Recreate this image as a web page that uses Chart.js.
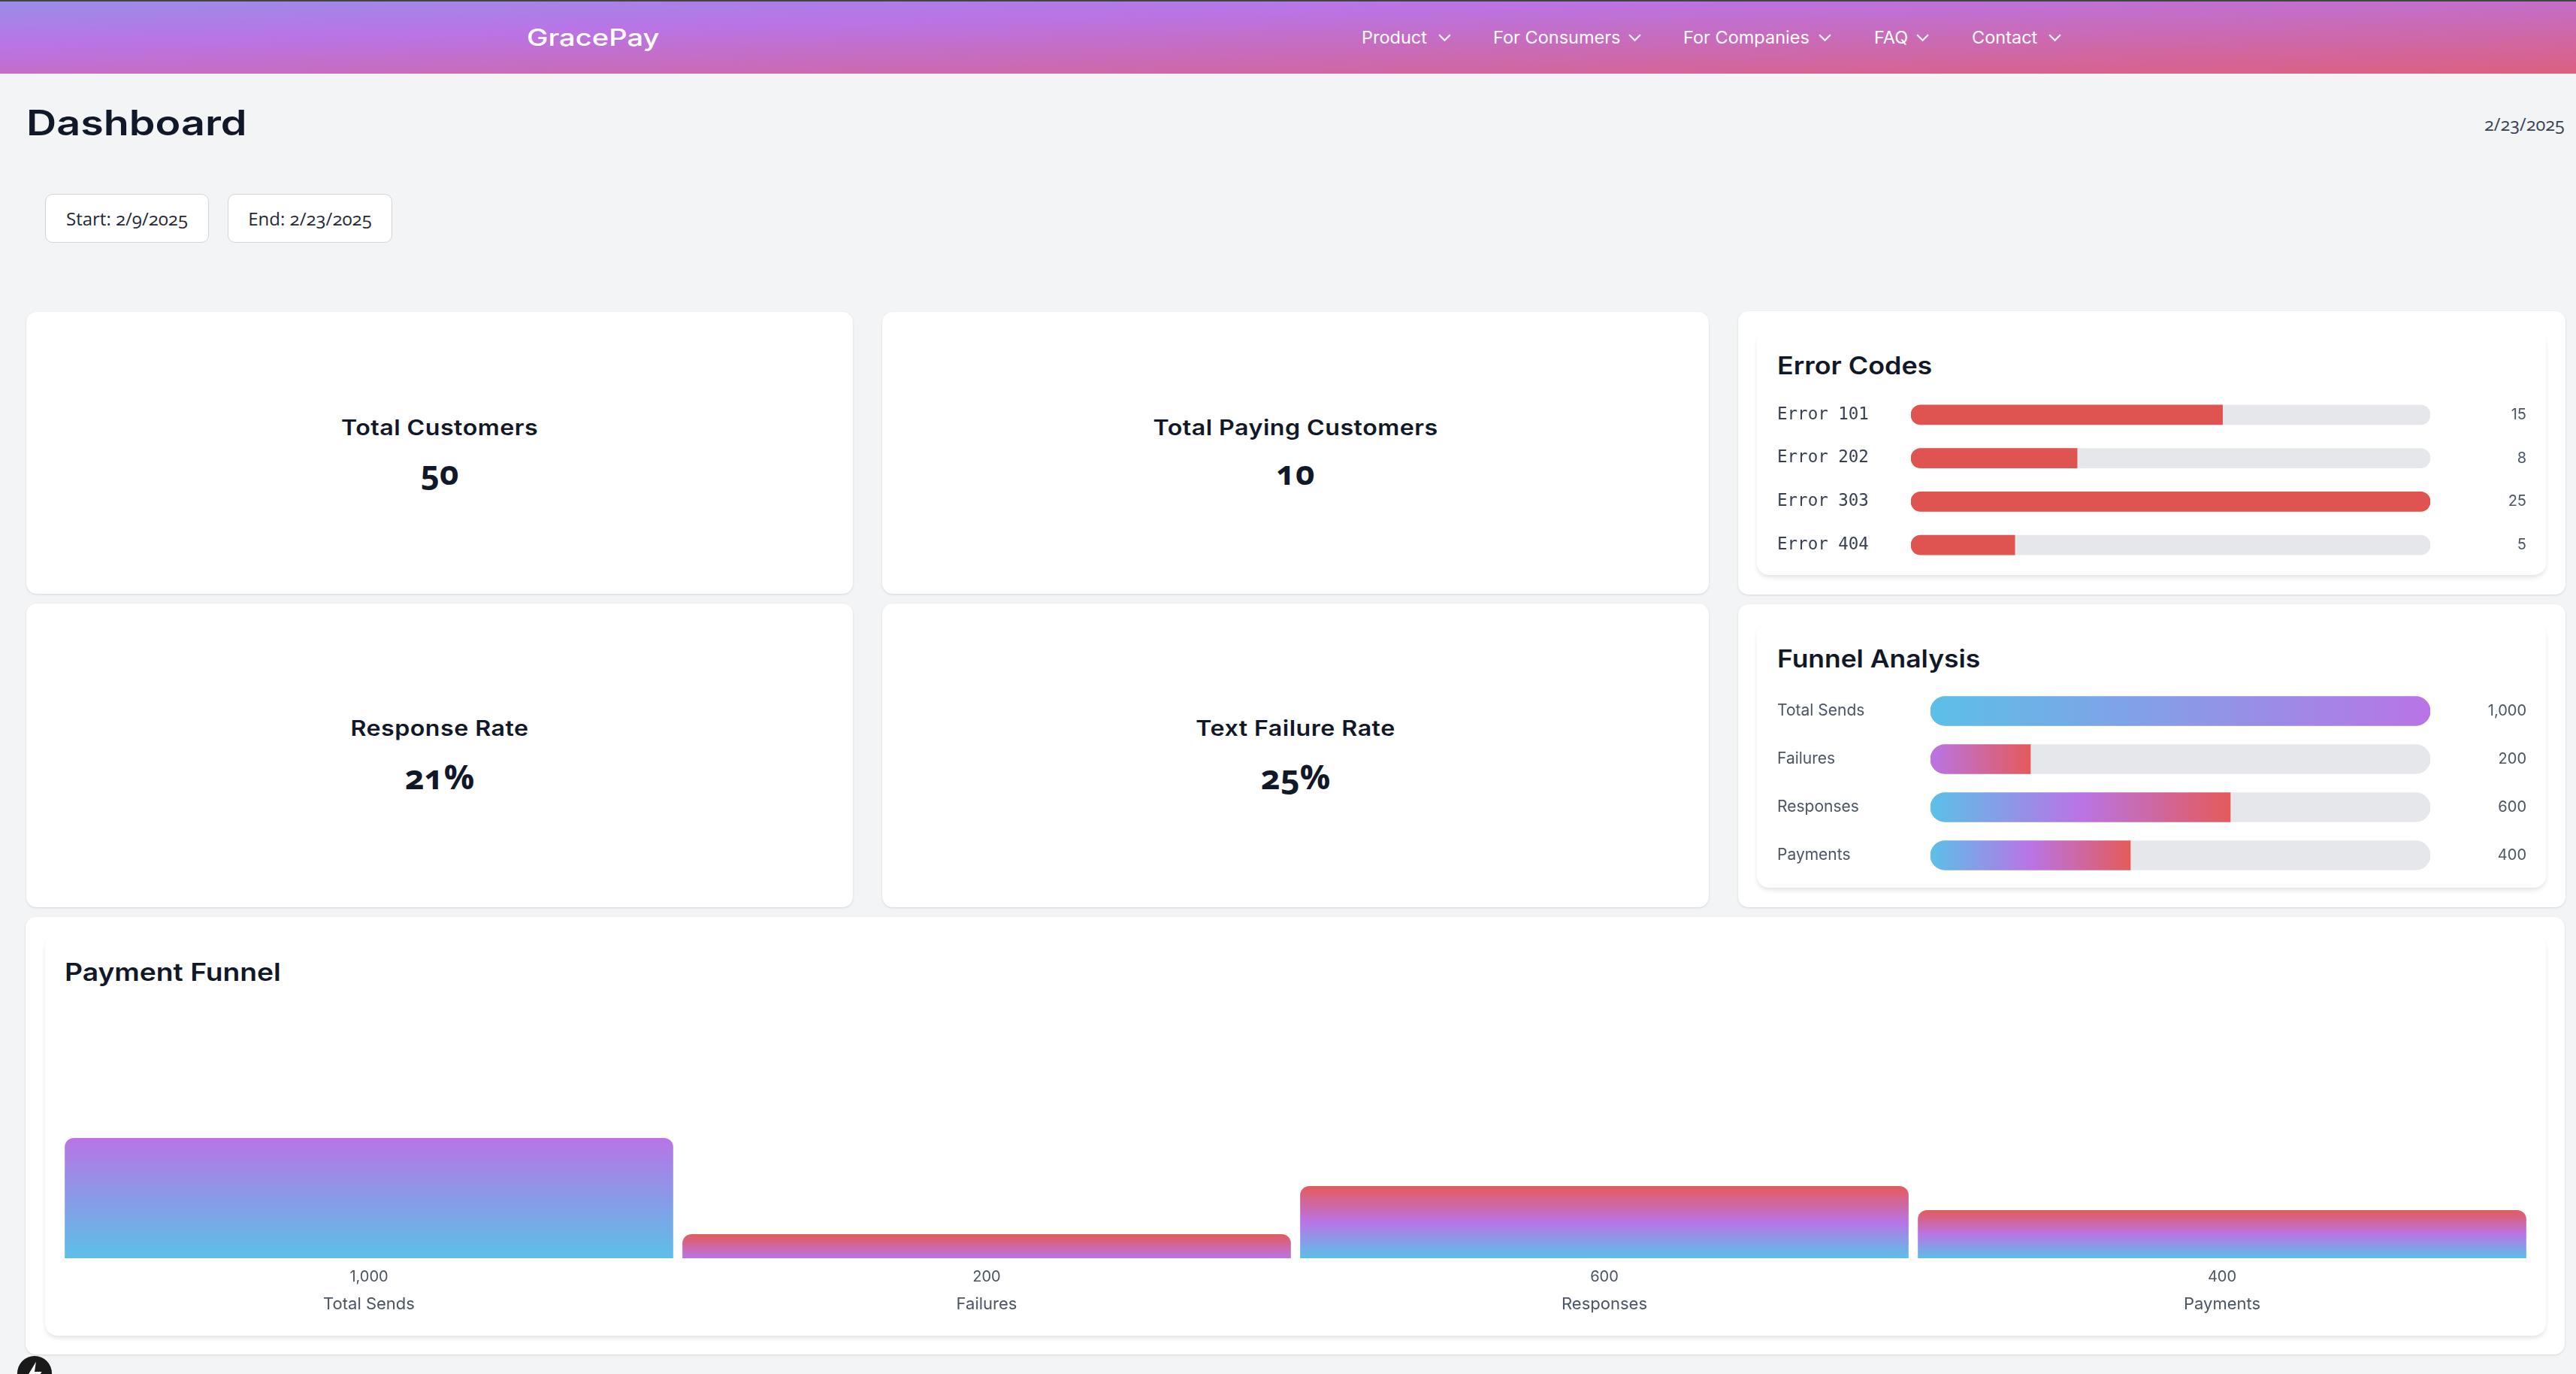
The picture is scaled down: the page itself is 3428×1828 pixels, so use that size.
<!DOCTYPE html>
<html>
<head>
<meta charset="utf-8">
<title>Dashboard</title>
<script src="https://cdn.jsdelivr.net/npm/chart.js@4/dist/chart.umd.js"></script>
<style>
  html, body { margin: 0; padding: 0; }
  body { width: 3428px; height: 1828px; position: relative; overflow: hidden; background: #f3f4f6; font-family: Inter, sans-serif; color: #111827; }
  .abs { position: absolute; white-space: nowrap; }
  .mid { transform: translateY(-50%) scaleX(var(--sx, 1)); transform-origin: left center; }
  .ctr { transform: translate(-50%, -50%) scaleX(var(--sx, 1)); }
  .old { font-family: "Open Sans", sans-serif; font-variant-numeric: oldstyle-nums; }
  #topbar { position: absolute; left: 0; top: 0; width: 3428px; height: 98px; background: linear-gradient(to bottom right, #9a8de8 0%, #b974e6 30%, #dc6080 100%); border-top: 2px solid #444; box-sizing: border-box; }
  .nav { color: #fff; font-size: 23.5px; top: 49px; }
  .chev { position: absolute; top: 50px; width: 17px; height: 12px; transform: translateY(-50%); fill: none; stroke: #fff; stroke-width: 2; }
  .card { position: absolute; background: #fff; border-radius: 14px; box-shadow: 0 1px 3px rgba(0,0,0,.12); }
  .panel { position: absolute; background: #fff; border-radius: 16px; box-shadow: 0 4px 6px -1px rgba(0,0,0,.12); }
  .btn { position: absolute; top: 258px; height: 65px; background: #fff; border: 1px solid #d1d5db; border-radius: 10px; box-sizing: border-box; display: flex; align-items: center; justify-content: center; font-size: 24px; color: #1f2937; }
  .kpi-title { font-size: 28px; font-weight: 600; letter-spacing: .4px; --sx: 1.15; }
  .kpi-value { font-size: 44px; font-weight: 700; }
  .panel-title { font-size: 32px; font-weight: 600; }
  .chart { position: absolute; }
  #dev { position: absolute; left: 23px; top: 1804px; width: 46px; height: 46px; border-radius: 50%; background: #1a1a1a; }
</style>
</head>
<body>
<div id="topbar"></div>
<div class="abs mid" style="left:701px;top:49px;color:#fff;font-size:31px;font-weight:500;--sx:1.23">GracePay</div>
<div class="abs mid nav" style="left:1812px">Product</div>
<svg class="chev" style="left:1914px" viewBox="4 7 16 11"><path d="M5 9l7 7 7-7"/></svg>
<div class="abs mid nav" style="left:1987px">For Consumers</div>
<svg class="chev" style="left:2167px" viewBox="4 7 16 11"><path d="M5 9l7 7 7-7"/></svg>
<div class="abs mid nav" style="left:2240px">For Companies</div>
<svg class="chev" style="left:2420px" viewBox="4 7 16 11"><path d="M5 9l7 7 7-7"/></svg>
<div class="abs mid nav" style="left:2494px">FAQ</div>
<svg class="chev" style="left:2550px" viewBox="4 7 16 11"><path d="M5 9l7 7 7-7"/></svg>
<div class="abs mid nav" style="left:2624px">Contact</div>
<svg class="chev" style="left:2726px" viewBox="4 7 16 11"><path d="M5 9l7 7 7-7"/></svg>

<div class="abs mid" style="left:35px;top:163px;font-size:46px;font-weight:600;--sx:1.21">Dashboard</div>
<div class="abs mid old" style="left:3306px;top:165px;font-size:23.5px;color:#374151">2/23/2025</div>
<div class="btn old" style="left:60px;width:218px">Start: 2/9/2025</div>
<div class="btn old" style="left:303px;width:219px">End: 2/23/2025</div>

<div class="card" style="left:35px;top:415px;width:1100px;height:375px"></div>
<div class="card" style="left:1174px;top:415px;width:1100px;height:375px"></div>
<div class="card" style="left:35px;top:803px;width:1100px;height:404px"></div>
<div class="card" style="left:1174px;top:803px;width:1100px;height:404px"></div>
<div class="abs ctr kpi-title" style="left:585px;top:569px">Total Customers</div>
<div class="abs ctr kpi-value old" style="left:585px;top:628px">50</div>
<div class="abs ctr kpi-title" style="left:1724px;top:569px">Total Paying Customers</div>
<div class="abs ctr kpi-value old" style="left:1724px;top:628px">10</div>
<div class="abs ctr kpi-title" style="left:585px;top:969px">Response Rate</div>
<div class="abs ctr kpi-value old" style="left:585px;top:1032px;font-size:45px">21%</div>
<div class="abs ctr kpi-title" style="left:1724px;top:969px">Text Failure Rate</div>
<div class="abs ctr kpi-value old" style="left:1724px;top:1032px;font-size:45px">25%</div>

<div class="card" style="left:2313px;top:414px;width:1101px;height:377px"></div>
<div class="panel" style="left:2338px;top:439px;width:1050px;height:326px"></div>
<div class="abs mid panel-title" style="left:2365px;top:486px;--sx:1.12">Error Codes</div>
<div class="chart" style="left:2365px;top:523px;width:997px;height:231px"><canvas id="errorChart"></canvas></div>

<div class="card" style="left:2313px;top:804px;width:1101px;height:403px"></div>
<div class="panel" style="left:2338px;top:829px;width:1050px;height:352px"></div>
<div class="abs mid panel-title" style="left:2365px;top:876px;--sx:1.107">Funnel Analysis</div>
<div class="chart" style="left:2365px;top:914px;width:997px;height:256px"><canvas id="funnelChart"></canvas></div>

<div class="card" style="left:34px;top:1220px;width:3379px;height:582px"></div>
<div class="panel" style="left:60px;top:1244px;width:3328px;height:533px"></div>
<div class="abs mid panel-title" style="left:86px;top:1293px;--sx:1.163">Payment Funnel</div>
<div class="chart" style="left:80px;top:1330px;width:3288px;height:440px"><canvas id="paymentChart"></canvas></div>

<div id="dev"><svg viewBox="0 0 24 24" width="46" height="46"><path d="M13 4l-6 10h5l-1 7 6-10h-5z" fill="#fff"/></svg></div>

<script>
const errorLabels = ['Error 101', 'Error 202', 'Error 303', 'Error 404'];
const errorValues = [15, 8, 25, 5];
const errorMax = [25, 25, 25, 25];
const errorTicks = ['15', '8', '25', '5'];

const funnelLabels = ['Total Sends', 'Failures', 'Responses', 'Payments'];
const funnelValues = [1000, 200, 600, 400];
const funnelMax = [1000, 1000, 1000, 1000];
const funnelTicks = ['1,000', '200', '600', '400'];

const BLUE = '#5bc0e8', PURPLE = '#b974e6', RED = '#e45b5b', ERROR_RED = '#df5350';
// per row gradient stops, funnel rows and payment bars use the same order
const rowStops = [[BLUE, PURPLE], [PURPLE, RED], [BLUE, PURPLE, RED], [BLUE, PURPLE, RED]];

Chart.defaults.animation = false;
Chart.defaults.font.family = 'Inter, sans-serif';
Chart.defaults.color = '#4b5563';
Chart.defaults.plugins.legend.display = false;
Chart.defaults.plugins.tooltip.enabled = false;

function gradient(ctx, x0, y0, x1, y1, stops) {
  const g = ctx.createLinearGradient(x0, y0, x1, y1);
  stops.forEach((c, i) => g.addColorStop(i / (stops.length - 1), c));
  return g;
}

// row axes ask for room for half a label above and below, we don't want that
function fitRowAxis(s, width) {
  s.width = width;
  s.paddingTop = 0;
  s.paddingBottom = 0;
}

function rowChart(id, labels, values, maxes, ticks, opts) {
  return new Chart(document.getElementById(id), {
    type: 'bar',
    data: {
      labels: labels,
      datasets: [
        {
          data: values,
          order: 1,
          grouped: false,
          barThickness: opts.thickness,
          borderSkipped: false,
          borderRadius: (c) => {
            const r = opts.thickness / 2;
            const full = values[c.dataIndex] >= maxes[c.dataIndex];
            return { topLeft: r, bottomLeft: r, topRight: full ? r : 0, bottomRight: full ? r : 0 };
          },
          backgroundColor: opts.fill
        },
        {
          data: maxes,
          order: 2,
          grouped: false,
          barThickness: opts.thickness,
          borderSkipped: false,
          borderRadius: opts.thickness / 2,
          backgroundColor: '#e5e7eb'
        }
      ]
    },
    options: {
      indexAxis: 'y',
      responsive: true,
      maintainAspectRatio: false,
      layout: { padding: 0 },
      scales: {
        x: { display: false, min: 0, max: maxes[0] },
        y: {
          grid: { display: false, drawTicks: false },
          border: { display: false },
          afterFit: (s) => fitRowAxis(s, opts.left),
          ticks: { crossAlign: 'far', padding: 0, color: opts.labelColor, font: opts.labelFont }
        },
        y2: {
          type: 'category',
          labels: ticks,
          offset: true,
          position: 'right',
          grid: { display: false, drawTicks: false },
          border: { display: false },
          afterFit: (s) => fitRowAxis(s, 128),
          ticks: { crossAlign: 'far', padding: 0, color: '#4b5563', font: { size: 20 } }
        }
      }
    }
  });
}

rowChart('errorChart', errorLabels, errorValues, errorMax, errorTicks, {
  thickness: 26,
  left: 178,
  labelColor: '#374151',
  labelFont: { size: 22.5, family: '"DejaVu Sans Mono", monospace' },
  fill: ERROR_RED
});

rowChart('funnelChart', funnelLabels, funnelValues, funnelMax, funnelTicks, {
  thickness: 39,
  left: 204,
  labelColor: '#4b5563',
  labelFont: { size: 21 },
  fill: (c) => {
    const x = c.chart.scales.x;
    if (!c.chart.chartArea) return PURPLE;
    return gradient(c.chart.ctx, x.getPixelForValue(0), 0, x.getPixelForValue(funnelValues[c.dataIndex]), 0, rowStops[c.dataIndex]);
  }
});

new Chart(document.getElementById('paymentChart'), {
  type: 'bar',
  data: {
    labels: funnelLabels,
    datasets: [{
      data: funnelValues,
      categoryPercentage: 1,
      barPercentage: 0.985,
      borderRadius: 12,
      backgroundColor: (c) => {
        const y = c.chart.scales.y;
        if (!c.chart.chartArea) return PURPLE;
        return gradient(c.chart.ctx, 0, y.getPixelForValue(0), 0, y.getPixelForValue(funnelValues[c.dataIndex]), rowStops[c.dataIndex]);
      }
    }]
  },
  options: {
    responsive: true,
    maintainAspectRatio: false,
    layout: { padding: { top: 184, bottom: 22, left: 0, right: 0 } },
    scales: {
      y: { display: false, min: 0, max: 1000 },
      x: {
        type: 'category',
        labels: funnelTicks,
        grid: { display: false, drawTicks: false },
        border: { display: false },
        afterFit: (s) => { s.height = 37; },
        ticks: { padding: 13, font: { size: 20 } }
      },
      x2: {
        type: 'category',
        labels: funnelLabels,
        offset: true,
        position: 'bottom',
        grid: { display: false, drawTicks: false },
        border: { display: false },
        afterFit: (s) => { s.height = 37; },
        ticks: { padding: 11, font: { size: 22 } }
      }
    }
  }
});
</script>
</body>
</html>
